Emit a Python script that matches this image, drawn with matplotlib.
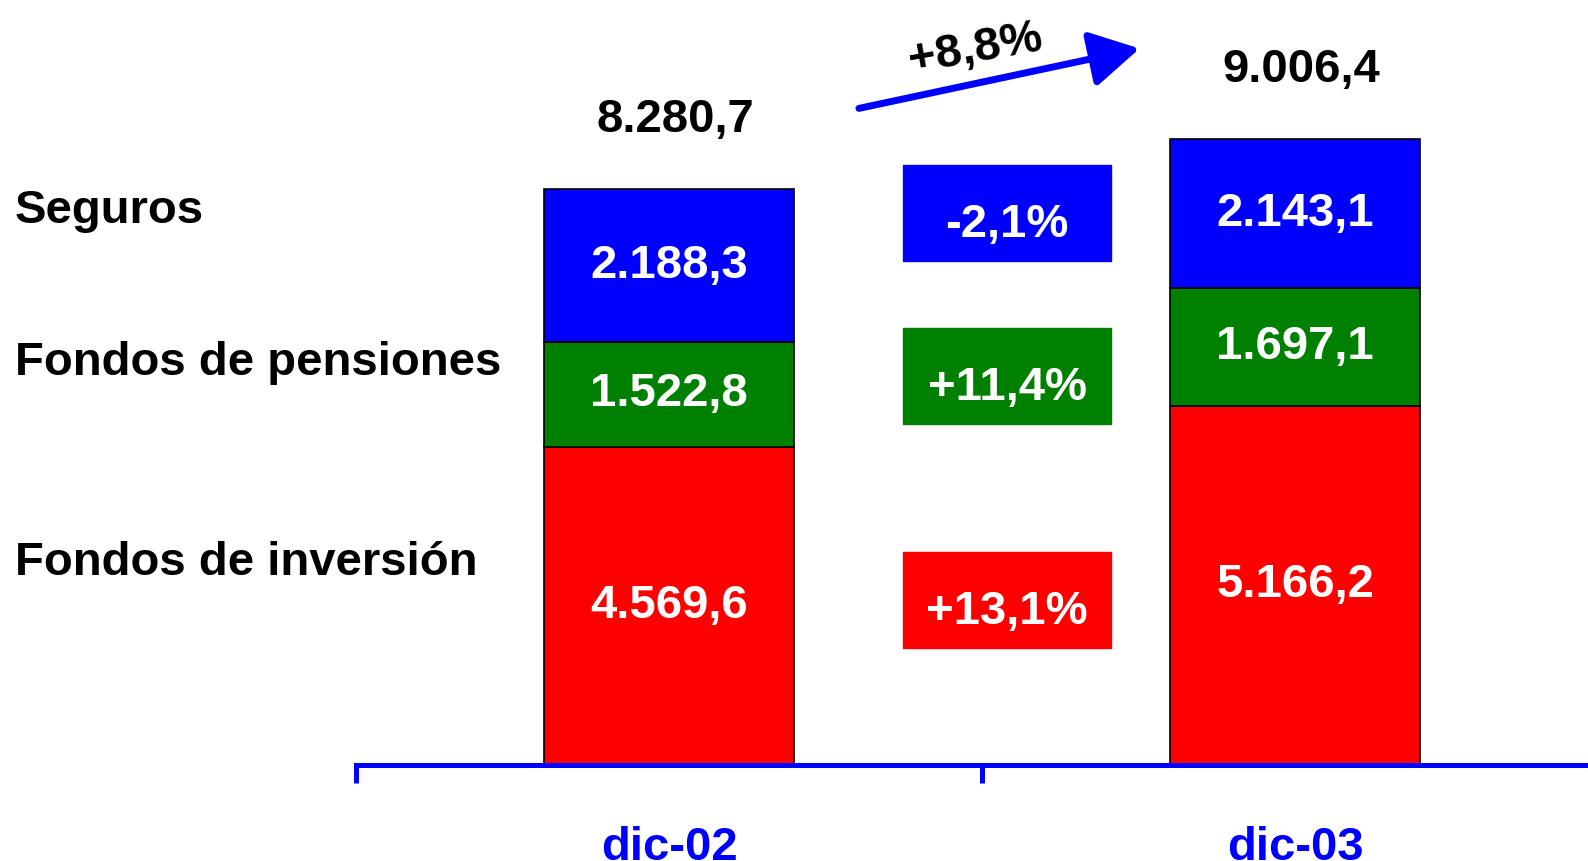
import matplotlib
matplotlib.use("Agg")
import matplotlib.pyplot as plt
from matplotlib.patches import Rectangle, FancyArrowPatch

plt.rcParams['font.family'] = ['Liberation Sans', 'DejaVu Sans']
plt.rcParams['font.weight'] = 'bold'

# Data
periods = ["dic-02", "dic-03"]
series = ["Fondos de inversión", "Fondos de pensiones", "Seguros"]
fondos_inversion = [4569.6, 5166.2]
fondos_pensiones = [1522.8, 1697.1]
seguros = [2188.3, 2143.1]

colors = ["#ff0000", "#008000", "#0000ff"]
blue = "#0000ff"


def fmt(v):
    # spanish number format: 8.280,7
    s = f"{v:,.1f}"
    return s.replace(",", "X").replace(".", ",").replace("X", ".")


def pct(a, b):
    p = (b / a - 1) * 100
    s = f"{p:+.1f}%"
    return s.replace(".", ",")


fig = plt.figure(figsize=(15.88, 8.61), dpi=100)
ax = fig.add_axes([356 / 1588, 96 / 861, 1232 / 1588, 765 / 861])

x = [0, 1]
bottom = [0, 0]
for vals, col in zip([fondos_inversion, fondos_pensiones, seguros], colors):
    ax.bar(x, vals, width=0.4, bottom=bottom, color=col,
           edgecolor="black", linewidth=1.2, zorder=2)
    for i in range(len(x)):
        ax.text(x[i], bottom[i] + vals[i] / 2, fmt(vals[i]), color="white",
                fontsize=34, fontweight="bold", ha="center", va="center")
    bottom = [bottom[i] + vals[i] for i in range(len(x))]

totals = bottom
for i in range(len(x)):
    ax.annotate(fmt(totals[i]), (x[i], totals[i]), xytext=(6, 57),
                textcoords="offset pixels", ha="center", va="baseline",
                fontsize=34, fontweight="bold", color="black")

# change boxes between the two bars
box_y = [1683, 4906, 7252]
box_h = 1381
for vals, col, y0 in zip([fondos_inversion, fondos_pensiones, seguros], colors, box_y):
    ax.add_patch(Rectangle((0.374, y0), 0.332, box_h, color=col, zorder=2))
    ax.text(0.54, y0 + box_h * 0.38, pct(vals[0], vals[1]), color="white",
            fontsize=34, fontweight="bold", ha="center", va="center")

# total growth arrow
arrow = FancyArrowPatch((0.299, 9439), (0.756, 10317),
                        arrowstyle="-|>,head_length=1.5,head_width=0.85",
                        mutation_scale=20, color=blue, linewidth=5, zorder=3)
ax.add_patch(arrow)
ax.text(0.489, 10290, pct(totals[0], totals[1]), rotation=10,
        rotation_mode="anchor", ha="center", va="center",
        fontsize=34, fontweight="bold", color="black")

# left side labels
fig.text(15 / 1588, 1 - 223 / 861, "Seguros", fontsize=34, fontweight="bold", va="baseline")
fig.text(15 / 1588, 1 - 375 / 861, "Fondos de pensiones", fontsize=34, fontweight="bold", va="baseline")
fig.text(15 / 1588, 1 - 575 / 861, "Fondos de inversión", fontsize=34, fontweight="bold", va="baseline")

# axes
for s in ["top", "right", "left"]:
    ax.spines[s].set_visible(False)
ax.spines["bottom"].set_color(blue)
ax.spines["bottom"].set_linewidth(3.6)
ax.spines["bottom"].set_zorder(3)
ax.set_yticks([])
ax.set_xticks(x)
ax.set_xticklabels(periods)
ax.set_xticks([-0.5, 0.5, 1.5], minor=True)
ax.tick_params(axis="x", which="major", length=0, pad=44, labelsize=34,
               labelcolor=blue)
ax.tick_params(axis="x", which="minor", length=13, width=3.6, color=blue,
               direction="out")
for lbl in ax.get_xticklabels():
    lbl.set_fontweight("bold")
ax.set_xlim(-0.5, 1.468)
ax.set_ylim(0, 11007)

fig.savefig("out.png", dpi=100)
